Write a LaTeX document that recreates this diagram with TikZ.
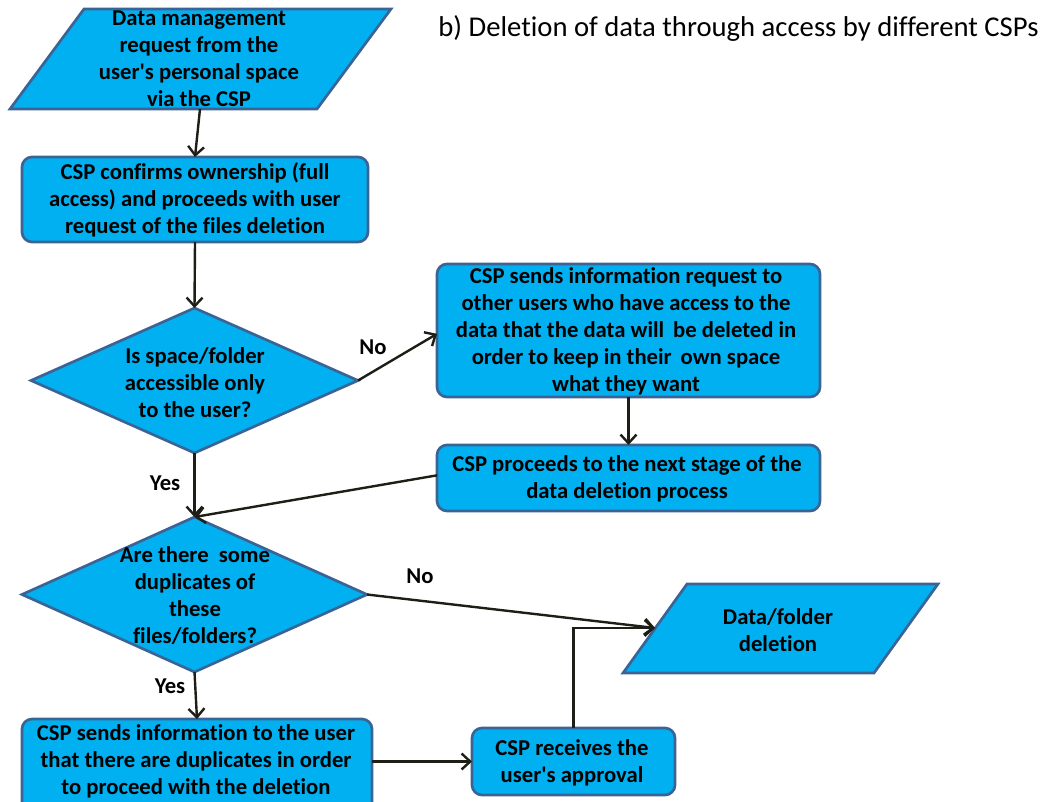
\documentclass[tikz,border=0pt]{standalone}
\usepackage{fontspec}
\setmainfont{Carlito}[Ligatures={TeXOff,NoCommon}]
\usetikzlibrary{shapes.geometric,arrows.meta}
\definecolor{fillc}{HTML}{00B0F0}
\definecolor{edgec}{HTML}{3B6496}
\definecolor{linec}{HTML}{1E1E16}
\begin{document}
\begin{tikzpicture}[x=0.75pt,y=-0.75pt,
  shapeline/.style={draw=edgec, fill=fillc, line width=2pt},
  box/.style={shapeline, rounded corners=7.5pt, inner sep=0pt, outer sep=0pt},
  dia/.style={shapeline, diamond, inner sep=0pt, outer sep=0pt},
  txt/.style={font=\bfseries\fontsize{17}{20.25}\selectfont, align=center, text=black, inner sep=0pt},
  lbl/.style={font=\bfseries\fontsize{17}{20.25}\selectfont, text=black, inner sep=0pt},
  flow/.style={draw=linec, line width=1.8pt, -{Straight Barb[length=6.5pt,width=12pt,line width=1.8pt]}}
]
\useasboundingbox (0,0) rectangle (1045,802);
\clip (0,0) rectangle (1045,802);
% title
\node[font=\fontsize{21.5}{24}\selectfont, inner sep=0pt] (title) at (738.5,28) {b) Deletion of data through access by different CSPs};
% parallelogram 1
\draw[shapeline] (84,9) -- (391,9) -- (317,109) -- (10,109) -- cycle;
\coordinate (p1b) at (200,109);
\node[txt] (t1) at (199,58.5) {Data management\\request from the\\user's personal space\\via the CSP};
% box 2
\node[box, minimum width=259.5pt, minimum height=63.75pt] (b2) at (195,199.5) {};
\node[txt] (t2) at (195,200) {CSP confirms ownership (full\\access) and proceeds with user\\request of the files deletion};
% diamond 1
\node[dia, minimum width=245.25pt, minimum height=108.75pt] (d1) at (194.5,380.5) {};
\node[txt] (t3) at (195,383) {Is space/folder\\accessible only\\to the user?};
% box 3
\node[box, minimum width=287.25pt, minimum height=99.75pt] (b3) at (628.5,330.5) {};
\node[txt] (t4) at (626,331) {CSP sends information request to\\other users who have access to the\\data that the data will\, be deleted in\\order to keep in their\, own space\\what they want};
% box 4
\node[box, minimum width=287.25pt, minimum height=49.5pt] (b4) at (628.5,478) {};
\node[txt] (t5) at (627,478.5) {CSP proceeds to the next stage of the\\data deletion process};
% diamond 2
\node[dia, minimum width=258.75pt, minimum height=116.25pt] (d2) at (194.5,594.5) {};
\node[txt] (t6) at (195,595.5) {Are there\ \ some\\duplicates of\\these\\files/folders?};
% parallelogram 2
\draw[shapeline] (687,584) -- (938,584) -- (874,673) -- (623,673) -- cycle;
\coordinate (p2l) at (655,628);
\node[txt] (t7) at (778,630) {Data/folder\\deletion};
% box 5
\node[box, minimum width=262.5pt, minimum height=75.75pt] (b5) at (197,769.5) {};
\node[txt] (t8) at (196,761.5) {CSP sends information to the user\\that there are duplicates in order\\to proceed with the deletion};
% box 6
\node[box, minimum width=152.25pt, minimum height=50.25pt] (b6) at (573.5,761.5) {};
\node[txt] (t9) at (572,763) {CSP receives the\\user's approval};
% connectors
\draw[flow] (p1b) -- (b2.north);
\draw[flow] (b2.south) -- (d1.north);
\draw[flow] (d1.east) -- ([yshift=-2.5]b3.west);
\draw[flow] (b3.south) -- (b4.north);
\draw[flow] ([yshift=2]b4.west) -- (d2.north);
\draw[flow] (d1.south) -- (d2.north);
\draw[flow] (d2.east) -- (p2l);
\draw[flow] (d2.south) -- (b5.north);
\draw[flow] (b5.east |- b6.west) -- (b6.west);
\draw[flow] (b6.north) |- (p2l);
% labels
\node[lbl] (no1) at (373,347) {No};
\node[lbl] (yes1) at (165,483) {Yes};
\node[lbl] (no2) at (420,576) {No};
\node[lbl] (yes2) at (170,686) {Yes};
\end{tikzpicture}
\end{document}
